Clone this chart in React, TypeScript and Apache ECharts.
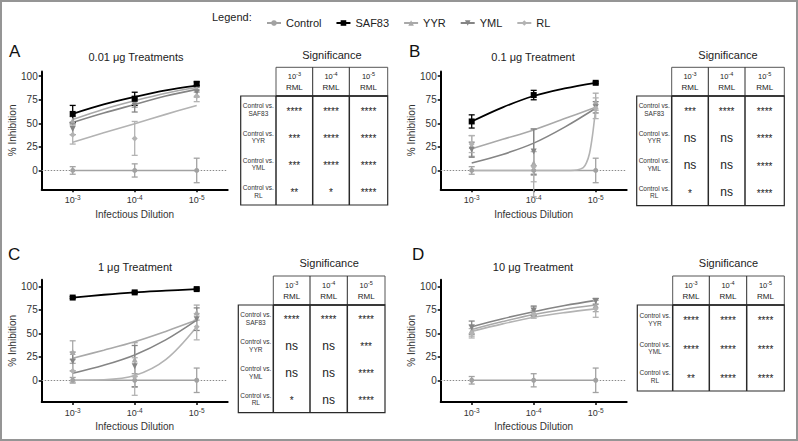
import React, { useEffect, useRef } from "react";
import * as echarts from "echarts";

const FONT = "'Liberation Sans', Arial, Helvetica, sans-serif";

// ---------- data ----------
const GROUPS = ["Control", "SAF83", "YYR", "YML", "RL"];
const DILUTION_EXP = [3, 4, 5]; // 10^-3, 10^-4, 10^-5
const FIT_X = [3, 3.5, 4, 4.5, 5];
const Y_TICKS = [0, 25, 50, 75, 100];

// Panel A: 0.01 µg
const A_MEAN: any = { Control: [0, 0, 0], SAF83: [60, 76, 92], YYR: [53, 73, 87], YML: [44, 69, 83], RL: [38, 34, 79] };
const A_ERR: any = { Control: [4, 7, 13], SAF83: [9, 7, 2], YYR: [4, 6, 4], YML: [6, 7, 5], RL: [10, 18, 6] };
const A_FIT: any = { Control: [0, 0, 0, 0, 0], SAF83: [60, 70, 78, 85, 90], YYR: [54, 65, 74, 82, 88], YML: [51, 61, 70, 79, 86], RL: [30, 40, 49.5, 59.5, 69] };

// Panel B: 0.1 µg
const B_MEAN: any = { Control: [0, 0, 0], SAF83: [52, 80, 93], YYR: [26, 8, 73], YML: [22, 20, 67], RL: [28, 4, 66] };
const B_ERR: any = { Control: [4, 5, 13], SAF83: [7, 5, 1], YYR: [11, 36, 9], YML: [8, 24, 6], RL: [9, 16, 11] };
const B_FIT: any = { Control: [0, 0, 0, 0, 0], SAF83: [52, 67, 79, 87, 93], YYR: [23, 33, 43, 55, 67], YML: [8, 17, 29, 46, 66] };
const B_FIT_RL_X = [3, 4, 4.6, 4.7, 4.8, 4.85, 4.9, 4.95, 5];
const B_FIT_RL_Y = [0, 0, 0, 0.5, 3, 8, 18, 38, 66];

// Panel C: 1 µg
const C_MEAN: any = { Control: [0, 0, 0], SAF83: [88, 93.5, 97], YYR: [30, 22, 72], YML: [20, 15, 65], RL: [10, 4, 57] };
const C_ERR: any = { Control: [3, 7, 13], SAF83: [1, 1, 1], YYR: [12, 18, 8], YML: [10, 22, 12], RL: [12, 20, 14] };
const C_FIT: any = { Control: [0, 0, 0, 0, 0], SAF83: [88, 91, 93.5, 95.3, 97], YYR: [23.5, 32, 41, 52, 64], YML: [7.5, 16, 27, 43, 64], RL: [0, 0.5, 5, 22, 57] };

// Panel D: 10 µg
const D_MEAN: any = { Control: [0, 0, 0], YYR: [53, 73, 80], YML: [56, 74, 84], RL: [50, 70, 76] };
const D_ERR: any = { Control: [4, 7, 13], YYR: [6, 5, 7], YML: [7, 5, 3], RL: [5, 4, 9] };
const D_FIT: any = { Control: [0, 0, 0, 0, 0], YYR: [54, 62.5, 70, 75.5, 80], YML: [57, 65.5, 73, 79.5, 85], RL: [52, 60, 67, 72, 76] };

// Significance tables
const RML_EXP = ["-3", "-4", "-5"];
const ROWS_ABC = ["SAF83", "YYR", "YML", "RL"];
const ROWS_D = ["YYR", "YML", "RL"];
const SIG_A = [["****", "****", "****"], ["***", "****", "****"], ["***", "****", "****"], ["**", "*", "****"]];
const SIG_B = [["***", "****", "****"], ["ns", "ns", "****"], ["ns", "ns", "****"], ["*", "ns", "****"]];
const SIG_C = [["****", "****", "****"], ["ns", "ns", "***"], ["ns", "ns", "****"], ["*", "ns", "****"]];
const SIG_D = [["****", "****", "****"], ["****", "****", "****"], ["**", "****", "****"]];

// ---------- styles / layout ----------
const STYLE: any = {
  Control: { color: "#a2a2a2", symbol: "circle", size: 5, rotate: 0, z: 2 },
  SAF83: { color: "#000000", symbol: "rect", size: 6, rotate: 0, z: 4 },
  YYR: { color: "#a9a9a9", symbol: "triangle", size: 6, rotate: 0, z: 3 },
  YML: { color: "#858585", symbol: "triangle", size: 6, rotate: 180, z: 3 },
  RL: { color: "#b3b3b3", symbol: "diamond", size: 6, rotate: 0, z: 3 },
};

const PANELS: any[] = [
  {
    letter: "A", title: "0.01 μg Treatments", mean: A_MEAN, err: A_ERR, fit: A_FIT, fitX: {},
    grid: [41.7, 71.5, 186, 117.8], yMin: -20, yMax: 105,
    letterPos: [9, 51], titlePos: [136, 57],
    table: { rows: ROWS_ABC, sig: SIG_A, labelLeft: 240.7, cols: [276, 312.7, 349.3, 387.7], headTop: 67.3, headBottom: 96, bottom: 205, sigY: 55 },
  },
  {
    letter: "B", title: "0.1 μg Treatment", mean: B_MEAN, err: B_ERR, fit: { ...B_FIT, RL: B_FIT_RL_Y }, fitX: { RL: B_FIT_RL_X },
    grid: [440.7, 71.5, 186, 117.8], yMin: -20, yMax: 105,
    letterPos: [409, 51], titlePos: [533, 57],
    table: { rows: ROWS_ABC, sig: SIG_B, labelLeft: 636.7, cols: [671.7, 708.3, 745, 784.3], headTop: 67.3, headBottom: 96, bottom: 205.7, sigY: 55 },
  },
  {
    letter: "C", title: "1 μg Treatment", mean: C_MEAN, err: C_ERR, fit: C_FIT, fitX: {},
    grid: [41.7, 279.7, 186, 122.2], yMin: -23, yMax: 107,
    letterPos: [8, 254], titlePos: [135, 267],
    table: { rows: ROWS_ABC, sig: SIG_C, labelLeft: 238.3, cols: [273.3, 310, 347.3, 385], headTop: 276, headBottom: 305, bottom: 412.7, sigY: 262.7 },
  },
  {
    letter: "D", title: "10 μg Treatment", mean: D_MEAN, err: D_ERR, fit: D_FIT, fitX: {},
    grid: [440.7, 279.7, 186, 122.2], yMin: -23, yMax: 107,
    letterPos: [412, 254], titlePos: [533, 267],
    table: { rows: ROWS_D, sig: SIG_D, labelLeft: 637.3, cols: [672.7, 709.3, 746.7, 784.3], headTop: 276, headBottom: 305, bottom: 391, sigY: 262.7 },
  },
];

function txt(text: string, x: number, y: number, fontSize: number, o: any = {}) {
  const align = o.align || "center";
  const va = o.va || "middle";
  return {
    type: "text",
    x,
    y,
    silent: true,
    z: 10,
    style: {
      text,
      fontSize,
      fontFamily: FONT,
      fontWeight: o.weight || "normal",
      fill: o.fill || "#222",
      align,
      verticalAlign: va,
      textAlign: align,
      textVerticalAlign: va,
      lineHeight: o.lineHeight,
      rich: o.rich,
    },
  };
}

function tableGraphics(t: any) {
  const els: any[] = [];
  const [c0, c1, c2, c3] = t.cols;
  const stroke = "#2a2a2a";
  const lw = 1.2;
  const ln = (x1: number, y1: number, x2: number, y2: number, w = lw) => ({
    type: "line", silent: true, z: 10,
    shape: { x1, y1, x2, y2 },
    style: { stroke, lineWidth: w },
  });
  // header box
  els.push({ type: "rect", silent: true, z: 10, shape: { x: c0, y: t.headTop, width: c3 - c0, height: t.headBottom - t.headTop }, style: { fill: "none", stroke: "#555", lineWidth: 1 } });
  els.push(ln(c1, t.headTop, c1, t.headBottom, 1));
  els.push(ln(c2, t.headTop, c2, t.headBottom, 1));
  // body box
  els.push({ type: "rect", silent: true, z: 10, shape: { x: t.labelLeft, y: t.headBottom, width: c3 - t.labelLeft, height: t.bottom - t.headBottom }, style: { fill: "none", stroke, lineWidth: lw } });
  els.push(ln(c0, t.headBottom, c0, t.bottom, 1.5));
  els.push(ln(c1, t.headBottom, c1, t.bottom, 1.5));
  els.push(ln(c2, t.headBottom, c2, t.bottom, 1.5));
  els.push(ln(c0, t.headBottom, c3, t.headBottom, 1.6));
  // title
  els.push(txt("Significance", (c0 + c3) / 2, t.sigY, 11));
  // header texts
  const hc = (t.headTop + t.headBottom) / 2;
  RML_EXP.forEach((e, j) => {
    els.push(
      txt(`{b|10}{s|${e}}\n{r|RML}`, (t.cols[j] + t.cols[j + 1]) / 2, hc, 7.5, {
        rich: {
          b: { fontSize: 7.5, fontFamily: FONT, fill: "#222", lineHeight: 11 },
          s: { fontSize: 5.5, fontFamily: FONT, fill: "#222", lineHeight: 7, verticalAlign: "top" },
          r: { fontSize: 8, fontFamily: FONT, fill: "#222", lineHeight: 11 },
        },
      })
    );
  });
  // rows
  const rowH = (t.bottom - t.headBottom) / t.rows.length;
  t.rows.forEach((r: string, i: number) => {
    const cy = t.headBottom + (i + 0.5) * rowH;
    els.push(txt(`Control vs.\n${r}`, (t.labelLeft + c0) / 2, cy, 6.5, { lineHeight: 7.5, fill: "#333" }));
    t.sig[i].forEach((s: string, j: number) => {
      const cx = (t.cols[j] + t.cols[j + 1]) / 2;
      if (s === "ns") els.push(txt(s, cx, cy + 0.5, 12, { fill: "#222" }));
      else els.push(txt(s, cx, cy + 1.5, 10, { fill: "#222" }));
    });
  });
  return els;
}

function buildOption() {
  const grid: any[] = [];
  const xAxis: any[] = [];
  const yAxis: any[] = [];
  const fitSeries: any[] = [];
  const errSeries: any[] = [];
  const ptSeries: any[] = [];
  const graphic: any[] = [];

  graphic.push({ type: "rect", silent: true, z: 0, shape: { x: 1, y: 1, width: 796, height: 439 }, style: { fill: "none", stroke: "#959595", lineWidth: 2 } });
  graphic.push(txt("Legend:", 212, 16.5, 11, { align: "left" }));

  PANELS.forEach((p, i) => {
    grid.push({ left: p.grid[0], top: p.grid[1], width: p.grid[2], height: p.grid[3], containLabel: false });
    xAxis.push({
      type: "value",
      gridIndex: i,
      min: 2.5,
      max: 5.5,
      name: "Infectious Dilution",
      nameLocation: "middle",
      nameGap: 20,
      nameTextStyle: { fontSize: 10, color: "#333", fontFamily: FONT },
      axisLine: { onZero: false, lineStyle: { color: "#000", width: 2 } },
      axisTick: { customValues: DILUTION_EXP, length: 3, lineStyle: { color: "#000", width: 1.5 } },
      axisLabel: {
        customValues: DILUTION_EXP,
        margin: 5,
        formatter: (v: number) => `{b|10}{s|-${v}}`,
        rich: {
          b: { fontSize: 9, color: "#333", fontFamily: FONT, lineHeight: 12 },
          s: { fontSize: 6.5, color: "#333", fontFamily: FONT, lineHeight: 7, verticalAlign: "top" },
        },
      },
      splitLine: { show: false },
    });
    yAxis.push({
      type: "value",
      gridIndex: i,
      min: p.yMin,
      max: p.yMax,
      name: "% Inhibition",
      nameLocation: "middle",
      nameGap: 23,
      nameTextStyle: { fontSize: 10, color: "#333", fontFamily: FONT },
      axisLine: { onZero: false, lineStyle: { color: "#000", width: 2 } },
      axisTick: { customValues: Y_TICKS, length: 3, lineStyle: { color: "#000", width: 1.5 } },
      axisLabel: { customValues: Y_TICKS, margin: 4, fontSize: 10, color: "#333", fontFamily: FONT },
      splitLine: { show: false },
    });

    GROUPS.forEach((g) => {
      if (!p.mean[g]) return;
      const st = STYLE[g];
      const fx = p.fitX[g] || FIT_X;
      const fy = p.fit[g];
      const line: any = {
        name: g,
        type: "line",
        xAxisIndex: i,
        yAxisIndex: i,
        data: fx.map((x: number, k: number) => [x, fy[k]]),
        smooth: fx.length > 5 ? 0.25 : 0.35,
        showSymbol: false,
        symbol: st.symbol,
        symbolRotate: st.rotate,
        itemStyle: { color: st.color },
        lineStyle: { color: st.color, width: g === "SAF83" ? 1.8 : 1.6 },
        z: st.z,
        silent: true,
      };
      if (g === "Control") {
        line.markLine = {
          silent: true,
          symbol: "none",
          label: { show: false },
          lineStyle: { color: "#8a8a8a", type: [1.5, 1.5], width: 1 },
          data: [{ yAxis: 0 }],
          z: 1,
        };
      }
      fitSeries.push(line);

      const errData = DILUTION_EXP.map((x, k) => [x, p.mean[g][k] - p.err[g][k], p.mean[g][k] + p.err[g][k]]);
      errSeries.push({
        name: g + " error",
        type: "custom",
        xAxisIndex: i,
        yAxisIndex: i,
        silent: true,
        z: st.z + 1,
        dimensions: ["x", "lo", "hi"],
        encode: { x: 0, y: [1, 2] },
        data: errData,
        renderItem: (params: any, api: any) => {
          const x = api.value(0);
          const lo = api.coord([x, api.value(1)]);
          const hi = api.coord([x, api.value(2)]);
          const w = 3;
          const s = { stroke: st.color, lineWidth: 1.3 };
          return {
            type: "group",
            children: [
              { type: "line", shape: { x1: lo[0], y1: lo[1], x2: hi[0], y2: hi[1] }, style: s },
              { type: "line", shape: { x1: lo[0] - w, y1: lo[1], x2: lo[0] + w, y2: lo[1] }, style: s },
              { type: "line", shape: { x1: hi[0] - w, y1: hi[1], x2: hi[0] + w, y2: hi[1] }, style: s },
            ],
          };
        },
      });

      ptSeries.push({
        name: g,
        type: "scatter",
        xAxisIndex: i,
        yAxisIndex: i,
        data: DILUTION_EXP.map((x, k) => [x, p.mean[g][k]]),
        symbol: st.symbol,
        symbolSize: st.size,
        symbolRotate: st.rotate,
        itemStyle: { color: st.color, opacity: 1 },
        z: st.z + 2,
        silent: true,
      });
    });

    graphic.push(txt(p.letter, p.letterPos[0], p.letterPos[1], 17, { align: "left", fill: "#111" }));
    graphic.push(txt(p.title, p.titlePos[0], p.titlePos[1], 11, { fill: "#222" }));
    tableGraphics(p.table).forEach((e) => graphic.push(e));
  });

  return {
    animation: false,
    backgroundColor: "#ffffff",
    textStyle: { fontFamily: FONT },
    legend: {
      data: GROUPS,
      left: 261,
      top: 12.5,
      itemWidth: 14,
      itemHeight: 7,
      itemGap: 14,
      selectedMode: false,
      textStyle: { fontSize: 11, color: "#222", fontFamily: FONT },
    },
    grid,
    xAxis,
    yAxis,
    series: [...fitSeries, ...errSeries, ...ptSeries],
    graphic: { elements: graphic },
  };
}

export default function App() {
  const ref = useRef<HTMLDivElement>(null);
  useEffect(() => {
    if (!ref.current) return;
    const chart = echarts.init(ref.current, null, { renderer: "svg" });
    chart.setOption(buildOption() as any);
    return () => chart.dispose();
  }, []);
  return (
    <div
      ref={ref}
      style={{ position: "fixed", left: 0, top: 0, width: 798, height: 441, background: "#fff" }}
    />
  );
}
